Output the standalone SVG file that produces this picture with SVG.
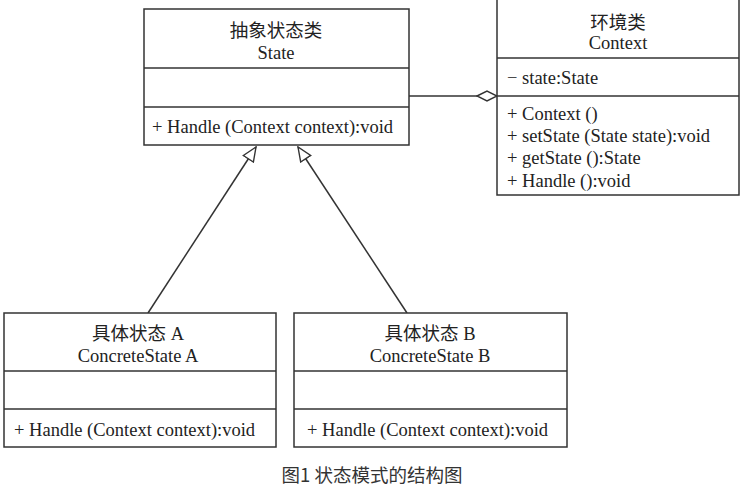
<svg xmlns="http://www.w3.org/2000/svg" width="743" height="493" viewBox="0 0 743 493">
<style>
.box{fill:#fff;stroke:#333;stroke-width:1.5}
.sep{stroke:#333;stroke-width:1.5}
.t{font-family:"Liberation Serif","Noto Sans CJK SC",serif;font-size:18.5px;fill:#222}
.c{text-anchor:middle}
.cap{font-family:"Noto Sans CJK SC","Noto Sans",sans-serif;font-size:18.5px;fill:#333;text-anchor:middle}
.conn{fill:none;stroke:#333;stroke-width:1.5}
</style>
<defs>
<marker id="tri" viewBox="0 0 16 14" refX="15" refY="7" markerWidth="16" markerHeight="14" markerUnits="userSpaceOnUse" orient="auto">
<path d="M1,1 L15,7 L1,13 Z" fill="#fff" stroke="#333" stroke-width="1.4"/>
</marker>
<marker id="dia" viewBox="0 0 22 12" refX="21" refY="6" markerWidth="22" markerHeight="12" markerUnits="userSpaceOnUse" orient="auto">
<path d="M1,6 L11,1 L21,6 L11,11 Z" fill="#fff" stroke="#333" stroke-width="1.4"/>
</marker>
</defs>
<g id="connectors">
<path class="conn" d="M148,313 L256,147" marker-end="url(#tri)"/>
<path class="conn" d="M407,313 L298,147" marker-end="url(#tri)"/>
<path class="conn" d="M409,96 L497,96" marker-end="url(#dia)"/>
</g>
<g id="state">
<rect class="box" x="144" y="9" width="265" height="136"/>
<line class="sep" x1="144" y1="68" x2="409" y2="68"/>
<line class="sep" x1="144" y1="107" x2="409" y2="107"/>
<text class="t c" x="276" y="37">抽象状态类</text>
<text class="t c" x="276" y="59">State</text>
<text class="t" x="152" y="133">+ Handle (Context context):void</text>
</g>
<g id="context">
<rect class="box" x="497" y="-1" width="242" height="196"/>
<line class="sep" x1="497" y1="58" x2="739" y2="58"/>
<line class="sep" x1="497" y1="96" x2="739" y2="96"/>
<text class="t c" x="618" y="29">环境类</text>
<text class="t c" x="618" y="49">Context</text>
<text class="t" x="507" y="84">− state:State</text>
<text class="t" x="507" y="120">+ Context ()</text>
<text class="t" x="507" y="142">+ setState (State state):void</text>
<text class="t" x="507" y="164">+ getState ():State</text>
<text class="t" x="507" y="187">+ Handle ():void</text>
</g>
<g id="concreteA">
<rect class="box" x="4" y="313" width="272" height="134"/>
<line class="sep" x1="4" y1="371" x2="276" y2="371"/>
<line class="sep" x1="4" y1="409" x2="276" y2="409"/>
<text class="t c" x="138" y="340">具体状态 A</text>
<text class="t c" x="138" y="362">ConcreteState A</text>
<text class="t" x="14" y="436">+ Handle (Context context):void</text>
</g>
<g id="concreteB">
<rect class="box" x="294" y="313" width="273" height="134"/>
<line class="sep" x1="294" y1="371" x2="567" y2="371"/>
<line class="sep" x1="294" y1="409" x2="567" y2="409"/>
<text class="t c" x="430" y="340">具体状态 B</text>
<text class="t c" x="430" y="362">ConcreteState B</text>
<text class="t" x="307" y="436">+ Handle (Context context):void</text>
</g>
<text class="cap" x="372" y="482">图1 状态模式的结构图</text>
</svg>
